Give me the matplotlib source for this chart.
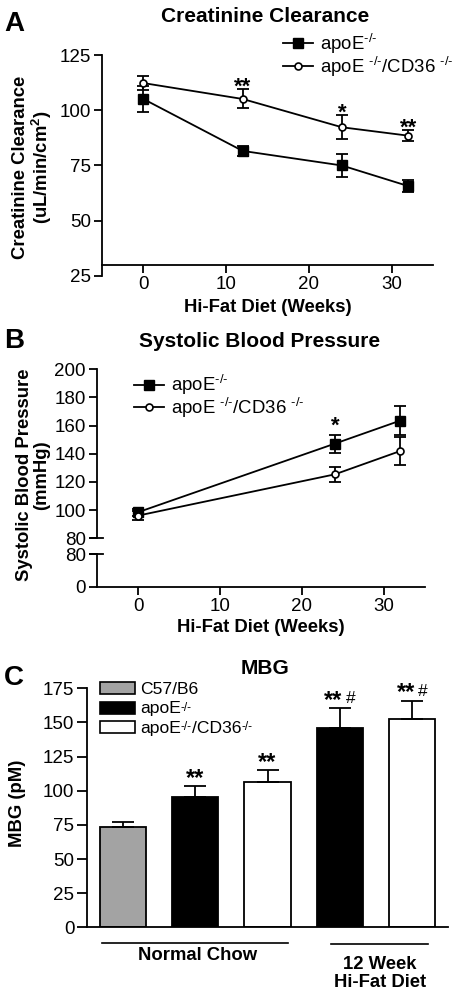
import matplotlib
matplotlib.use("Agg")
import matplotlib.pyplot as plt
import numpy as np
from matplotlib.lines import Line2D
from matplotlib.patches import Rectangle

plt.rcParams['font.family'] = ['Liberation Sans', 'DejaVu Sans']
plt.rcParams['mathtext.default'] = 'regular'
plt.rcParams['axes.linewidth'] = 1.3

# ---------------- data ----------------
# Panel A: creatinine clearance
weeks_a = [0, 12, 24, 32]
apoe_a = [105.1, 81.6, 75.0, 65.7]
apoe_a_err = [5.7, 2.2, 5.0, 2.8]
dko_a = [112.3, 105.1, 92.3, 88.5]
dko_a_err = [3.2, 4.3, 5.4, 2.6]
stars_a = ['', '**', '*', '**']

# Panel B: systolic blood pressure
weeks_b = [0, 24, 32]
apoe_b = [98.5, 147.2, 163.6]
apoe_b_err = [2.5, 6.5, 10.0]
dko_b = [96.1, 125.4, 142.0]
dko_b_err = [3.0, 5.5, 10.0]
stars_b = ['', '*', '']

# Panel C: MBG
groups_c = ['C57/B6', 'apoE-/-', 'apoE-/-/CD36-/-', 'apoE-/- HF', 'apoE-/-/CD36-/- HF']
mbg = [73.7, 95.7, 106.7, 145.7, 152.6]
mbg_err = [3.7, 7.5, 8.5, 14.7, 13.4]
mbg_stars = ['', '**', '**', '**', '**']
mbg_hash = ['', '', '', '#', '#']
mbg_colors = ['#a3a3a3', 'black', 'white', 'black', 'white']
ticks_c = [0, 25, 50, 75, 100, 125, 150, 175]
# legend pieces for panel C: (normal, superscript) segments
leg_parts_c = [[('C57/B6', None)],
               [('apoE', '-/-')],
               [('apoE', '-/-'), ('/CD36', '-/-')]]

W, H = 456, 996
fig = plt.figure(figsize=(W / 100, H / 100), dpi=100)


def axrect(x0, x1, ytop, ybot):
    return [x0 / W, 1 - ybot / H, (x1 - x0) / W, (ybot - ytop) / H]


def ftext(x, y, s, **kw):
    return fig.text(x / W, 1 - y / H, s, **kw)


HY = '\u2010'
SUP = '$^{' + HY + '/' + HY + '}$'
lab1 = 'apoE' + SUP
lab2 = 'apoE ' + SUP + '/CD36 ' + SUP
TICKFS = 13.5
LABFS = 13.3
TITFS = 15
LEGFS = 13.4
STARFS = 16

# ---------------- Panel A ----------------
ax = fig.add_axes(axrect(102, 433, 55, 276))
ax.plot(weeks_a, apoe_a, '-', color='k', lw=1.3, marker='s', ms=7.5, mfc='k', mec='k', zorder=3)
ax.errorbar(weeks_a, apoe_a, yerr=apoe_a_err, fmt='none', ecolor='k', elinewidth=1.3, capsize=4, capthick=1.3, zorder=2)
ax.plot(weeks_a, dko_a, '-', color='k', lw=1.3, marker='o', ms=5, mfc='white', mec='k', mew=1.2, zorder=4)
ax.errorbar(weeks_a, dko_a, yerr=dko_a_err, fmt='none', ecolor='k', elinewidth=1.3, capsize=4, capthick=1.3, zorder=2)
for x, v, e, s in zip(weeks_a, dko_a, dko_a_err, stars_a):
    if s:
        ax.annotate(s, (x, v + e), xytext=(0, -2.5), textcoords='offset points',
                    ha='center', va='baseline', fontsize=STARFS, fontweight='bold')
ax.set_xlim(-5, 35)
ax.set_ylim(25, 125)
ax.set_yticks([25, 50, 75, 100, 125])
ax.set_xticks([0, 10, 20, 30])
ax.spines['top'].set_visible(False)
ax.spines['right'].set_visible(False)
ax.spines['bottom'].set_position(('data', 30))
ax.tick_params(labelsize=TICKFS, length=6, width=1.3, pad=2)
ax.set_xlabel('Hi-Fat Diet (Weeks)', fontsize=LABFS, fontweight='bold', labelpad=4)
ax.legend(handles=[Line2D([], [], color='k', lw=1.3, marker='s', ms=7.5, mfc='k'),
                   Line2D([], [], color='k', lw=1.3, marker='o', ms=5, mfc='white', mew=1.2)],
          labels=[lab1, lab2], loc='upper left', bbox_to_anchor=((276 - 102) / 331, 1.14),
          frameon=False, fontsize=LEGFS, handlelength=1.6, handletextpad=0.35, labelspacing=-0.05,
          borderaxespad=0)
ftext(265, 16, 'Creatinine Clearance', ha='center', va='center', fontsize=TITFS, fontweight='bold')
ftext(4, 24, 'A', ha='left', va='center', fontsize=20, fontweight='bold')
ftext(33, 167, 'Creatinine Clearance\n(uL/min/cm$^2$)', ha='center', va='center', rotation=90,
      fontsize=LABFS, fontweight='bold', linespacing=1.05)

# ---------------- Panel B ----------------
axu = fig.add_axes(axrect(97, 425, 369.3, 538.3))
axl = fig.add_axes(axrect(97, 425, 554.3, 586.7))
for a in (axu, axl):
    a.plot(weeks_b, apoe_b, '-', color='k', lw=1.3, marker='s', ms=7.5, mfc='k', mec='k', zorder=3)
    a.errorbar(weeks_b, apoe_b, yerr=apoe_b_err, fmt='none', ecolor='k', elinewidth=1.3, capsize=4, capthick=1.3, zorder=2)
    a.plot(weeks_b, dko_b, '-', color='k', lw=1.3, marker='o', ms=5, mfc='white', mec='k', mew=1.2, zorder=4)
    a.errorbar(weeks_b, dko_b, yerr=dko_b_err, fmt='none', ecolor='k', elinewidth=1.3, capsize=4, capthick=1.3, zorder=2)
    a.set_xlim(-5, 35)
    a.spines['top'].set_visible(False)
    a.spines['right'].set_visible(False)
    a.tick_params(labelsize=TICKFS, length=6, width=1.3, pad=2)
for x, v, e, s in zip(weeks_b, apoe_b, apoe_b_err, stars_b):
    if s:
        axu.annotate(s, (x, v + e), xytext=(0, 2), textcoords='offset points',
                     ha='center', va='baseline', fontsize=STARFS, fontweight='bold')
axu.set_ylim(80, 200)
axu.set_yticks([80, 100, 120, 140, 160, 180, 200])
axu.spines['bottom'].set_visible(False)
axu.tick_params(axis='x', bottom=False, labelbottom=False)
axl.set_ylim(0, 80)
axl.set_yticks([0, 80])
axl.set_xticks([0, 10, 20, 30])
axl.set_xlabel('Hi-Fat Diet (Weeks)', fontsize=LABFS, fontweight='bold', labelpad=3)
# break marks
axu.plot([-0.02, 0.018], [0, 0], transform=axu.transAxes, color='k', lw=1.3, clip_on=False)
axl.plot([-0.02, 0.018], [1, 1], transform=axl.transAxes, color='k', lw=1.3, clip_on=False)
axu.legend(handles=[Line2D([], [], color='k', lw=1.3, marker='s', ms=7.5, mfc='k'),
                    Line2D([], [], color='k', lw=1.3, marker='o', ms=5, mfc='white', mew=1.2)],
           labels=[lab1, lab2], loc='upper left', bbox_to_anchor=((127 - 97) / 328, 1.02),
           frameon=False, fontsize=LEGFS, handlelength=1.6, handletextpad=0.35, labelspacing=-0.1,
           borderaxespad=0)
ftext(260, 341, 'Systolic Blood Pressure', ha='center', va='center', fontsize=TITFS, fontweight='bold')
ftext(4, 341, 'B', ha='left', va='center', fontsize=20, fontweight='bold')
ftext(33, 475, 'Systolic Blood Pressure\n(mmHg)', ha='center', va='center', rotation=90,
      fontsize=LABFS, fontweight='bold', linespacing=1.05)

# ---------------- Panel C ----------------
axc = fig.add_axes(axrect(87, 448, 688.3, 927.3))
xs = np.arange(len(mbg))
axc.bar(xs, mbg, width=0.64, color=mbg_colors, edgecolor='k', linewidth=1.3, zorder=2)
axc.errorbar(xs, mbg, yerr=[np.zeros(len(mbg)), mbg_err], fmt='none', ecolor='k', elinewidth=1.3,
             capsize=8, capthick=1.3, zorder=3)
for x, v, e, s, hsh in zip(xs, mbg, mbg_err, mbg_stars, mbg_hash):
    if s:
        dx = -4.5 if hsh else 0
        axc.annotate(s, (x, v + e), xytext=(dx, 1), textcoords='offset points',
                     ha='center', va='baseline', fontsize=17, fontweight='bold')
    if hsh:
        axc.annotate(hsh, (x, v + e), xytext=(4.5, 3.5), textcoords='offset points',
                     ha='left', va='baseline', fontsize=12.5)
axc.set_xlim(-0.5, 4.5)
axc.set_ylim(0, 175)
axc.set_yticks(ticks_c)
axc.set_xticks([])
axc.spines['top'].set_visible(False)
axc.spines['right'].set_visible(False)
axc.tick_params(labelsize=TICKFS, length=7, width=1.3, pad=2)
axc.plot([-0.29, 2.29], [-11.3, -11.3], color='k', lw=1.2, clip_on=False)
axc.plot([2.875, 4.22], [-12.3, -12.3], color='k', lw=1.2, clip_on=False)
axc.text(1.03, -20.5, 'Normal Chow', ha='center', va='center', fontsize=LABFS, fontweight='bold')
axc.text(3.56, -34, '12 Week\nHi-Fat Diet', ha='center', va='center', fontsize=LABFS,
         fontweight='bold', linespacing=1.1)
# manual legend for panel C (superscripts drawn as separate small texts)
LFS = 12.6
for i, (c, parts) in enumerate(zip(mbg_colors[:3], leg_parts_c)):
    yc = 688 + 19.7 * i
    fig.patches.append(Rectangle((100 / W, 1 - (yc + 6) / H), 35 / W, 12 / H, facecolor=c,
                                 edgecolor='k', lw=1.2, transform=fig.transFigure, figure=fig))
    prev = None
    base = None
    for norm, sup in parts:
        if prev is None:
            t = ftext(140, yc + 1, norm, ha='left', va='center', fontsize=LFS)
            base = t
        else:
            t = axc.annotate(norm, xy=(1, 0), xycoords=(prev, base), ha='left', va='bottom',
                             fontsize=LFS, annotation_clip=False)
        prev = t
        if sup:
            s = axc.annotate(sup, xy=(1, 0.98), xycoords=(prev, base), ha='left', va='top',
                             fontsize=8.5, annotation_clip=False)
            prev = s
ftext(265, 668, 'MBG', ha='center', va='center', fontsize=TITFS, fontweight='bold')
ftext(4, 678, 'C', ha='left', va='center', fontsize=20, fontweight='bold')
ftext(18, 803, 'MBG (pM)', ha='center', va='center', rotation=90, fontsize=LABFS, fontweight='bold')

fig.savefig('out.png', dpi=100)
